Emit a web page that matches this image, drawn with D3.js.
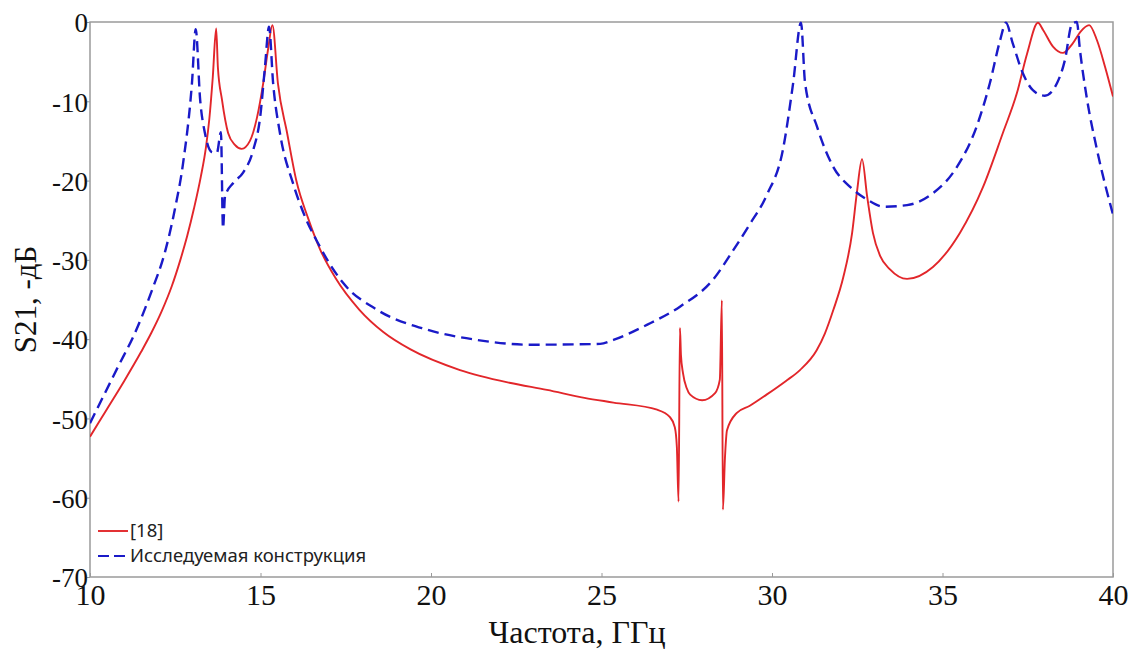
<!DOCTYPE html>
<html lang="ru">
<head>
<meta charset="UTF-8">
<title>S21</title>
<script src="https://cdn.jsdelivr.net/npm/d3@7"></script>
<style>
  body { margin: 0; background: #fff; }
  svg { display: block; }
  .tick-label { font-family: "Liberation Serif", "Times New Roman", serif; fill: #111; }
  .legend-text { font-family: "Noto Sans", "Open Sans", sans-serif; font-size: 18.5px; fill: #222; }
</style>
</head>
<body>
<script>
// ---- data ----
const xTicks = [10, 15, 20, 25, 30, 35, 40]
const yTicks = [0, -10, -20, -30, -40, -50, -60, -70]

const seriesNames = ['[18]', 'Исследуемая конструкция']

const refFreq = [10.0, 10.5, 11.0, 11.5, 11.8, 12.1, 12.4, 12.65, 12.85, 13.05, 13.25, 13.4, 13.5, 13.6, 13.7, 13.75, 13.87, 14.05, 14.25, 14.45, 14.69,
  14.9, 15.08, 15.22, 15.35, 15.51, 15.78, 16.05, 16.4, 16.74, 17.2, 17.9, 18.6, 19.4, 20.85, 22.3, 23.4, 24.5, 25.35, 26.63, 27.0, 27.15,
  27.21, 27.26, 27.3, 27.33, 27.39, 27.5, 27.6, 27.95, 28.33, 28.47, 28.53, 28.56, 28.62, 28.68, 28.97, 29.35, 29.84, 30.4, 30.82, 31.31,
  31.55, 31.8, 32.09, 32.35, 32.49, 32.64, 32.79, 32.96, 33.17, 33.46, 33.96, 34.72, 35.51, 36.19, 36.77, 37.18, 37.48, 37.8, 37.95,
  38.24, 38.53, 38.82, 39.05, 39.3, 39.53, 39.77, 40.0]
const refS21 = [-52.3, -48.8, -45.3, -41.6, -39.2, -36.5, -33.3, -30.0, -27.0, -23.5, -19.5, -15.8, -12.2, -7.0, -0.8, -5.7, -9.8, -14.0, -15.5, -16.0, -15.0,
  -12.0, -7.7, -3.5, -0.4, -7.7, -14.0, -20.0, -24.8, -28.6, -32.3, -36.3, -39.1, -41.3, -43.9, -45.5, -46.4, -47.4, -48.0, -48.9, -49.8, -51.1,
  -53.6, -60.5, -38.6, -42.0, -44.3, -46.2, -47.0, -47.7, -46.8, -45.1, -35.1, -61.5, -55.0, -51.5, -49.3, -48.4, -47.0, -45.3, -43.9, -41.4,
  -39.3, -36.3, -32.2, -26.6, -21.5, -17.3, -22.0, -26.6, -29.5, -31.2, -32.4, -30.9, -26.6, -20.8, -14.0, -9.0, -4.0, -0.1, -1.0,
  -3.1, -3.9, -2.7, -1.2, -0.4, -2.3, -5.7, -9.4]

const newFreq = [10.0, 10.82, 11.32, 11.82, 12.2, 12.49, 12.73, 12.99, 13.1, 13.23, 13.37, 13.57, 13.72, 13.84, 13.9, 13.96, 14.2, 14.49,
  14.79, 14.99, 15.13, 15.25, 15.37, 15.57, 15.95, 16.3, 16.7, 17.0, 17.42, 18.42, 19.88, 21.35, 22.9, 24.96, 25.35, 26.33, 27.3, 28.27,
  28.86, 29.35, 29.85, 30.32, 30.62, 30.85, 30.97, 31.32, 31.8, 32.29, 32.79, 33.27, 33.96, 34.72, 35.42, 36.0, 36.39, 36.69, 36.86,
  37.06, 37.36, 37.65, 38.0, 38.36, 38.59, 38.8, 38.94, 39.03, 39.24, 39.53, 40.0]
const newS21 = [-50.6, -43.5, -39.2, -33.8, -29.0, -23.6, -17.8, -7.7, -0.9, -9.8, -14.0, -16.4, -16.5, -13.9, -26.0, -22.0, -20.3, -19.0,
  -16.1, -12.0, -5.7, -0.6, -7.7, -14.0, -20.3, -24.5, -28.0, -30.3, -32.9, -36.3, -38.8, -40.1, -40.7, -40.6, -40.1, -38.2, -35.9, -32.5,
  -28.8, -25.5, -21.8, -16.1, -7.7, -0.1, -7.7, -13.2, -18.3, -20.8, -22.4, -23.3, -23.1, -21.6, -18.3, -13.2, -7.7, -2.3, -0.1,
  -2.7, -6.5, -8.6, -9.3, -7.7, -4.8, -0.2, 0.0, -3.5, -9.8, -16.1, -24.3]

// ---- layout ----
const width = 1133
const height = 653
const margin = { top: 22, right: 20, bottom: 76, left: 90 }
const innerWidth = width - margin.left - margin.right
const innerHeight = height - margin.top - margin.bottom

const svg = d3.select('body').append('svg')
  .attr('width', width)
  .attr('height', height)

const g = svg.append('g')
  .attr('transform', `translate(${margin.left}, ${margin.top})`)

const xScale = d3.scaleLinear().domain([10, 40]).range([0, innerWidth])
const yScale = d3.scaleLinear().domain([-70, 0]).range([innerHeight, 0])

// frame
g.append('rect')
  .attr('width', innerWidth)
  .attr('height', innerHeight)
  .attr('fill', 'none')
  .attr('stroke', '#9a9a9a')
  .attr('stroke-width', 1.5)

// plain hyphen for negatives, like the original
const fmt = (d) => String(d)

const xAxis = g.append('g')
  .attr('transform', `translate(0, ${innerHeight})`)
  .call(d3.axisBottom(xScale).tickValues(xTicks).tickFormat(fmt).tickSize(-4).tickSizeOuter(0))
xAxis.select('.domain').remove()
xAxis.selectAll('line').attr('stroke', '#9a9a9a')
xAxis.selectAll('text')
  .attr('class', 'tick-label')
  .attr('dy', '0.71em')
  .style('font-size', '30px')
  .attr('y', 7)

const yAxis = g.append('g')
  .call(d3.axisLeft(yScale).tickValues(yTicks).tickFormat(fmt).tickSize(3).tickPadding(0).tickSizeOuter(0))
yAxis.select('.domain').remove()
yAxis.selectAll('line').attr('stroke', '#9a9a9a')
yAxis.selectAll('text')
  .attr('class', 'tick-label')
  .style('font-size', '27px')
  .attr('dy', '0.36em')
  .attr('x', -2)

// axis titles
svg.append('text')
  .attr('class', 'tick-label')
  .attr('x', 577)
  .attr('y', 643)
  .attr('text-anchor', 'middle')
  .style('font-size', '32px')
  .text('Частота, ГГц')

svg.append('text')
  .attr('class', 'tick-label')
  .attr('transform', `translate(36, ${margin.top + innerHeight / 2}) rotate(-90)`)
  .attr('text-anchor', 'middle')
  .style('font-size', '31px')
  .text('S21, -дБ')

// curves
const line = d3.line()
  .x((d) => xScale(d[0]))
  .y((d) => yScale(d[1]))
  .curve(d3.curveMonotoneX)

const refData = refFreq.map((f, i) => [f, refS21[i]])
const newData = newFreq.map((f, i) => [f, newS21[i]])

const clip = svg.append('defs').append('clipPath').attr('id', 'plot-clip')
clip.append('rect').attr('x', 0).attr('y', -3).attr('width', innerWidth).attr('height', innerHeight + 3)

g.append('path')
  .datum(refData)
  .attr('clip-path', 'url(#plot-clip)')
  .attr('fill', 'none')
  .attr('stroke', '#e2262a')
  .attr('stroke-width', 1.9)
  .attr('d', line)

g.append('path')
  .datum(newData)
  .attr('clip-path', 'url(#plot-clip)')
  .attr('fill', 'none')
  .attr('stroke', '#1a1ac8')
  .attr('stroke-width', 2.4)
  .attr('stroke-dasharray', '11,6')
  .attr('d', line)

// legend
const legend = svg.append('g').attr('transform', 'translate(98, 531)')
const legendStyles = [
  { color: '#e2262a', dash: null, w: 1.9 },
  { color: '#1a1ac8', dash: '11,5', w: 2 }
]
seriesNames.forEach((name, i) => {
  const row = legend.append('g').attr('transform', `translate(0, ${i * 25})`)
  row.append('line')
    .attr('x1', 0).attr('x2', 30)
    .attr('stroke', legendStyles[i].color)
    .attr('stroke-width', legendStyles[i].w)
    .attr('stroke-dasharray', legendStyles[i].dash)
  row.append('text')
    .attr('class', 'legend-text')
    .attr('x', 32)
    .attr('dy', '0.35em')
    .text(name)
})
</script>
</body>
</html>
